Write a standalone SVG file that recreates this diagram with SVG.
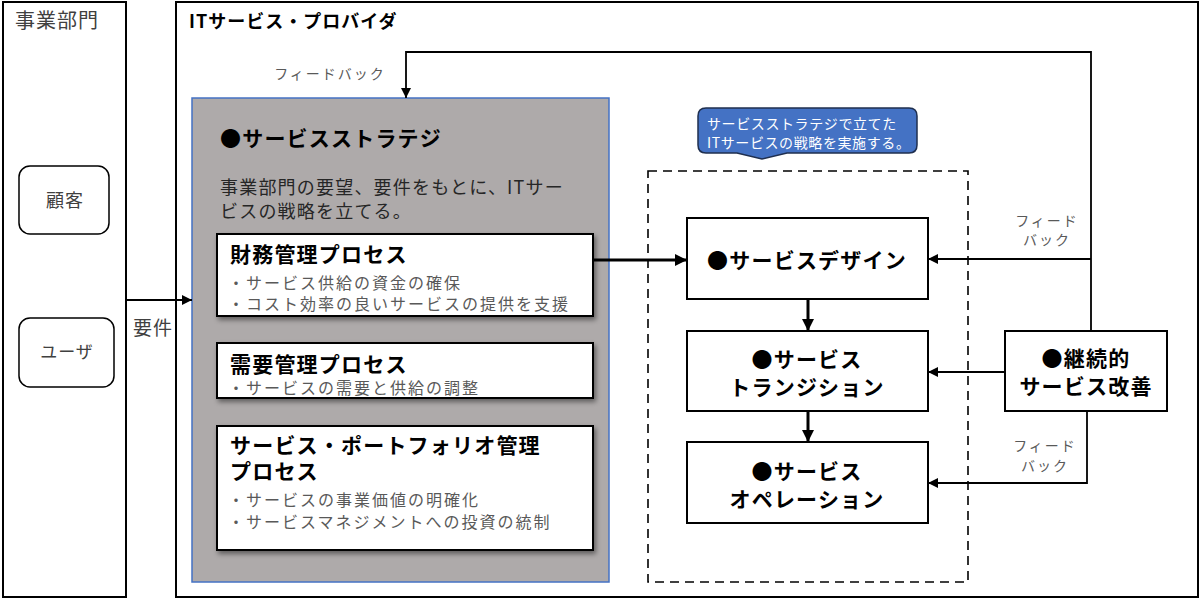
<svg xmlns="http://www.w3.org/2000/svg" width="1200" height="599" viewBox="0 0 1200 599">
<defs>
<style>
text{font-family:"Noto Sans CJK JP","Noto Sans",sans-serif;}
.frame{fill:#fff;stroke:#000;stroke-width:2;}
.lbl{fill:#404040;}
.h{font-weight:bold;fill:#000;font-size:21px;letter-spacing:1.2px;}
.tight{font-family:"Liberation Sans","Noto Sans CJK JP",sans-serif;}
.bul{fill:#595959;font-size:16px;letter-spacing:2px;font-family:"Liberation Sans","Noto Sans CJK JP",sans-serif;}
.proc{fill:#fff;stroke:#000;stroke-width:2;}
.fb{fill:#595959;font-size:14px;letter-spacing:2px;text-anchor:middle;}
.thin{fill:none;stroke:#000;stroke-width:1.8;}
.thick{fill:none;stroke:#000;stroke-width:3;}
.ctr{text-anchor:middle;}
</style>
<marker id="ah" viewBox="0 0 10 10" refX="10" refY="5" markerWidth="10" markerHeight="10" markerUnits="userSpaceOnUse" orient="auto">
<path d="M0,0 L10,5 L0,10 z" fill="#000"/>
</marker>
<marker id="ahs" viewBox="0 0 10 10" refX="10" refY="5" markerWidth="12" markerHeight="12" markerUnits="userSpaceOnUse" orient="auto">
<path d="M0,0 L10,5 L0,10 z" fill="#000"/>
</marker>
<filter id="sh" x="-5%" y="-10%" width="115%" height="130%">
<feDropShadow dx="2" dy="3" stdDeviation="2.5" flood-color="#000" flood-opacity="0.45"/>
</filter>
</defs>
<rect width="1200" height="599" fill="#fff"/>

<g id="business">
<rect class="frame" x="3" y="2" width="123" height="595"/>
<text x="15" y="28" font-size="20" letter-spacing="1" class="lbl">事業部門</text>
</g>

<g id="provider">
<rect class="frame" x="176" y="2" width="1022" height="595"/>
<text x="189" y="28" font-size="18" letter-spacing="1" font-weight="bold" fill="#000">ITサービス・プロバイダ</text>
</g>

<g id="customer">
<rect x="19" y="166" width="90" height="68" rx="11" fill="#fff" stroke="#000" stroke-width="1.5"/>
<text x="65" y="207" font-size="18" letter-spacing="1" class="lbl ctr">顧客</text>
</g>
<g id="user">
<rect x="19" y="318" width="95" height="69" rx="11" fill="#fff" stroke="#000" stroke-width="1.5"/>
<text x="67" y="358" font-size="17" letter-spacing="1" class="lbl ctr">ユーザ</text>
</g>

<g id="strategy">
<rect x="192" y="98" width="417" height="484" fill="#aeaaaa" stroke="#4472c4" stroke-width="1.5"/>
<text x="220" y="146" class="h">●サービスストラテジ</text>
<text font-size="18" letter-spacing="1.2" fill="#262626"><tspan x="220" y="194">事業部門の要望、要件をもとに、ITサー</tspan><tspan x="220" y="218">ビスの戦略を立てる。</tspan></text>
</g>

<g id="financial">
<rect class="proc" x="217" y="234" width="376" height="82" filter="url(#sh)"/>
<text x="230" y="262" class="h">財務管理プロセス</text>
<text class="bul"><tspan x="228" y="289">・サービス供給の資金の確保</tspan><tspan x="228" y="310">・コスト効率の良いサービスの提供を支援</tspan></text>
</g>

<g id="demand">
<rect class="proc" x="217" y="343" width="376" height="55" filter="url(#sh)"/>
<text x="230" y="372" class="h">需要管理プロセス</text>
<text x="228" y="394" class="bul">・サービスの需要と供給の調整</text>
</g>

<g id="portfolio">
<rect class="proc" x="217" y="426" width="376" height="124" filter="url(#sh)"/>
<text class="h tight"><tspan x="230" y="453">サービス・ポートフォリオ管理</tspan><tspan x="230" y="479">プロセス</tspan></text>
<text class="bul"><tspan x="228" y="506">・サービスの事業価値の明確化</tspan><tspan x="228" y="528">・サービスマネジメントへの投資の統制</tspan></text>
</g>

<g id="lifecycle">
<rect x="648" y="171" width="320" height="411" fill="none" stroke="#000" stroke-width="1.6" stroke-dasharray="9 6"/>
</g>

<g id="callout">
<path d="M706,108 H909 Q917,108 917,116 V145 Q917,153 909,153 H787 L762,159 L737,153 H706 Q698,153 698,145 V116 Q698,108 706,108 Z" fill="#4472c4" stroke="#1f2f4f" stroke-width="1.5"/>
<text font-size="14" letter-spacing="0.6" fill="#fff"><tspan x="707" y="129">サービスストラテジで立てた</tspan><tspan x="707" y="148">ITサービスの戦略を実施する。</tspan></text>
</g>

<g id="design">
<rect class="proc" x="687" y="218" width="241" height="81"/>
<text x="807" y="268" class="h ctr">●サービスデザイン</text>
</g>

<g id="transition">
<rect class="proc" x="687" y="331" width="241" height="80"/>
<text class="h ctr"><tspan x="807" y="367">●サービス</tspan><tspan x="807" y="395">トランジション</tspan></text>
</g>

<g id="operation">
<rect class="proc" x="687" y="442" width="241" height="81"/>
<text class="h ctr"><tspan x="807" y="479">●サービス</tspan><tspan x="807" y="507">オペレーション</tspan></text>
</g>

<g id="csi">
<rect class="proc" x="1005" y="331" width="162" height="80"/>
<text class="h ctr"><tspan x="1086" y="366">●継続的</tspan><tspan x="1086" y="394">サービス改善</tspan></text>
</g>

<g id="connectors">
<path class="thin" d="M126,300 H192" marker-end="url(#ah)"/>
<path class="thick" d="M593,260 H687" marker-end="url(#ahs)"/>
<path class="thick" d="M808,299 V331" marker-end="url(#ahs)"/>
<path class="thick" d="M808,411 V442" marker-end="url(#ahs)"/>
<path class="thin" d="M1091,331 V52 H406 V98" marker-end="url(#ah)"/>
<path class="thin" d="M1091,259 H928" marker-end="url(#ah)"/>
<path class="thin" d="M1005,372 H928" marker-end="url(#ah)"/>
<path class="thin" d="M1087,411 V483 H928" marker-end="url(#ah)"/>
<text x="133" y="335" font-size="19" letter-spacing="1" class="lbl">要件</text>
<text x="330" y="79" class="fb">フィードバック</text>
<text class="fb"><tspan x="1047" y="226">フィード</tspan><tspan x="1047" y="245">バック</tspan></text>
<text class="fb"><tspan x="1045" y="451">フィード</tspan><tspan x="1045" y="471">バック</tspan></text>
</g>
</svg>
